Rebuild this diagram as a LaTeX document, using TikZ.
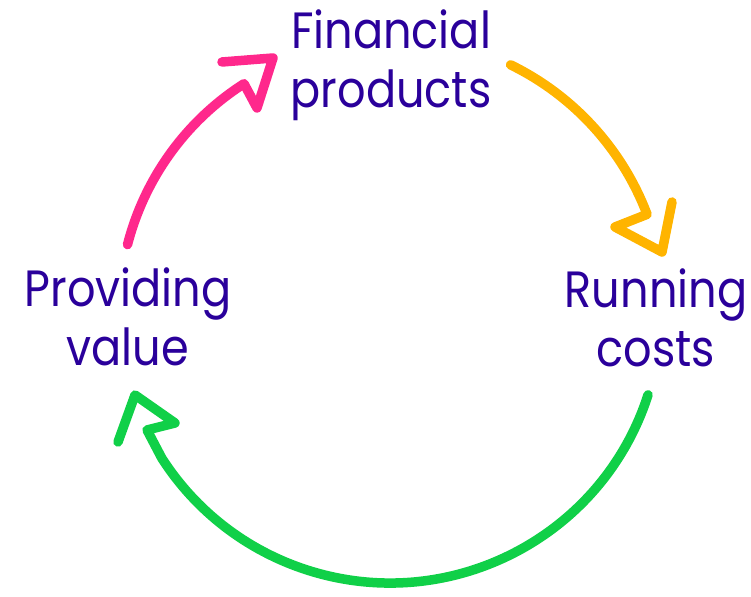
\documentclass[tikz,border=0pt]{standalone}
\usepackage{fontspec}
\setmainfont{Poppins}[FakeStretch=0.875]
\usetikzlibrary{calc}
\begin{document}
\definecolor{cycpink}{RGB}{255,40,140}
\definecolor{cycorange}{RGB}{255,180,0}
\definecolor{cycgreen}{RGB}{16,208,72}
\definecolor{cyctext}{RGB}{42,0,155}
\begin{tikzpicture}[x=1pt,y=1pt,
  label/.style={align=center,text=cyctext,inner sep=0pt,
    font=\fontsize{51}{59}\selectfont},
  flow/.style={line width=9.5pt,line cap=round,line join=round}]
\path[use as bounding box] (0,0) rectangle (751,596);
\coordinate (c) at (390,284);
% stage labels
\node[label] (fin) at (391,531) {Financial\\products};
\node[label] (run) at (656,278) {Running\\costs};
\node[label] (val) at (128,279) {Providing\\value};
% arc from value to products, ending in an open zigzag head
\draw[flow,cycpink] ($(c)+(165.6:271)$) coordinate (p0)
  arc[start angle=165.6,end angle=122.6,radius=271]
  -- (257,488) -- (273,538) -- (222,534);
% arc from products to running costs
\draw[flow,cycorange] ($(c)+(64:275)$) coordinate (o0)
  arc[start angle=64,end angle=20.8,radius=275]
  -- (615,369) -- (662,344) -- (672,394);
% arc from running costs back to value
\draw[flow,cycgreen] ($(c)+(-17.8:271)$) coordinate (g0)
  arc[start angle=-17.8,end angle=-147.4,radius=271]
  -- (147,166) -- (175,173) -- (135,201) -- (118,154);
\end{tikzpicture}
\end{document}
